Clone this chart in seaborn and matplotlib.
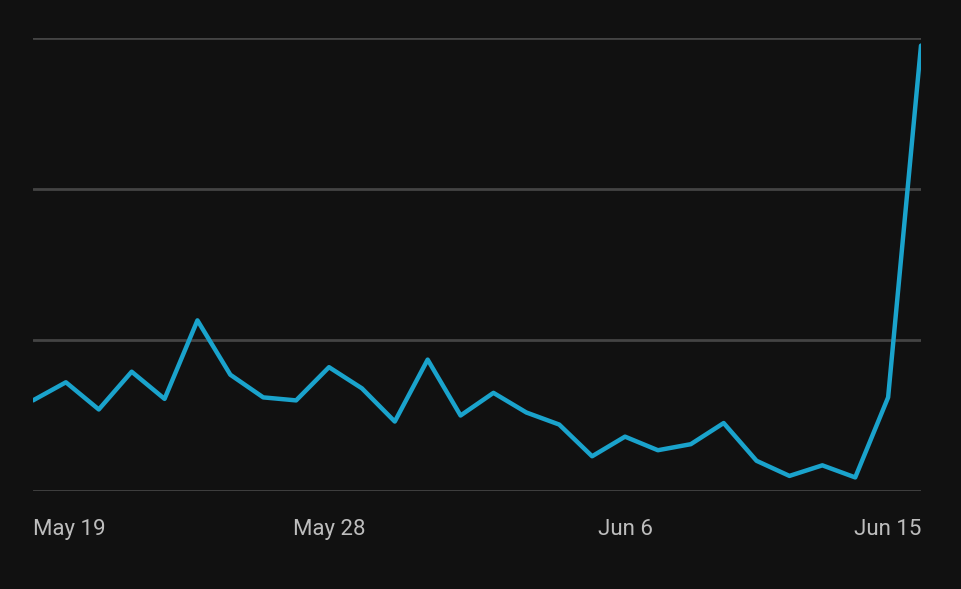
import matplotlib
matplotlib.use("Agg")
import matplotlib.pyplot as plt
import seaborn as sns
import pandas as pd
import numpy as np

dates = pd.date_range("2024-05-19", "2024-06-15", freq="D")
values = [0.60, 0.72, 0.54, 0.79, 0.61, 1.13, 0.77, 0.62, 0.60, 0.82, 0.68, 0.46,
          0.87, 0.50, 0.65, 0.52, 0.44, 0.23, 0.36, 0.27, 0.31, 0.45, 0.20, 0.10,
          0.17, 0.09, 0.62, 2.95]
tick_labels = ["May 19", "May 28", "Jun 6", "Jun 15"]
tick_idx = [0, 9, 18, 27]

df = pd.DataFrame({"i": np.arange(len(values)), "v": values})

sns.set_style("dark")
plt.rcParams["font.family"] = ["Roboto", "DejaVu Sans"]
fig = plt.figure(figsize=(9.62, 5.89), dpi=100, facecolor="#111111")
ax = fig.add_axes([33/962, 1-491/589, (921-33)/962, (491-38)/589])
ax.set_facecolor("#111111")
sns.lineplot(data=df, x="i", y="v", ax=ax, color="#1aa3cc", linewidth=3.2)
ax.set_xlim(0, len(values)-1)
ax.set_ylim(0, 3)
ax.set_yticks([0, 1, 2, 3])
ax.set_yticklabels([])
ax.grid(axis="y", color="#444444", linewidth=2)
ax.grid(axis="x", visible=False)
for s in ax.spines.values():
    s.set_visible(False)
ax.set_xticks(tick_idx)
ax.set_xticklabels(tick_labels, color="#bdbdbd", fontsize=16)
labs = ax.get_xticklabels()
labs[0].set_ha("left")
labs[-1].set_ha("right")
ax.tick_params(axis="both", length=0, pad=20)
ax.set_xlabel("")
ax.set_ylabel("")
fig.savefig("out.png", dpi=100, facecolor="#111111")
